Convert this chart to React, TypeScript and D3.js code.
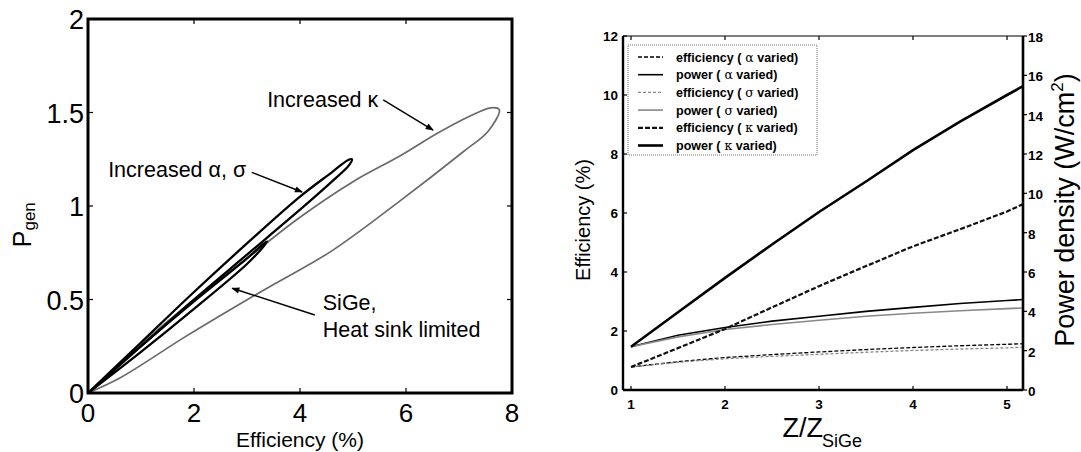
import React from "react";
import * as d3 from "d3";

// ---- left panel: P_gen vs efficiency loops ----
const kappaLoop: [number, number][] = [
  [0, 0], [1, 0.26], [2, 0.5], [3, 0.72], [4, 0.94], [5, 1.13], [5.9, 1.27],
  [6.6, 1.39], [7.2, 1.48], [7.6, 1.525], [7.76, 1.515], [7.55, 1.4], [7.08, 1.29],
  [5.9, 1.03], [4.6, 0.76], [3.5, 0.58], [2.77, 0.46], [1.83, 0.3], [0.6, 0.08], [0, 0],
];
const alphaSigmaLoop: [number, number][] = [
  [0, 0], [1, 0.27], [2, 0.54], [3, 0.8], [4, 1.05], [4.6, 1.18], [4.9, 1.245],
  [4.98, 1.25], [4.93, 1.22], [4.6, 1.13], [4, 0.98], [3, 0.74], [2, 0.5], [1, 0.25], [0, 0],
];
const sigeLoop: [number, number][] = [
  [0, 0], [1, 0.25], [2, 0.49], [3, 0.72], [3.32, 0.8], [3.38, 0.81], [3.3, 0.78],
  [3, 0.69], [2, 0.45], [1, 0.22], [0, 0],
];
const leftXTicks = [0, 2, 4, 6, 8];
const leftYTicks = [0, 0.5, 1, 1.5, 2];

// ---- right panel: vs Z/Z_SiGe ----
const zRatio = [1, 1.5, 2, 2.5, 3, 3.5, 4, 4.5, 5, 5.17];
const effAlpha = [0.78, 0.96, 1.1, 1.2, 1.29, 1.37, 1.44, 1.5, 1.55, 1.57];
const powAlpha = [2.2, 2.78, 3.18, 3.5, 3.75, 4.0, 4.2, 4.4, 4.55, 4.6];
const effSigma = [0.78, 0.94, 1.06, 1.14, 1.21, 1.28, 1.34, 1.39, 1.43, 1.45];
const powSigma = [2.2, 2.7, 3.08, 3.33, 3.55, 3.75, 3.9, 4.03, 4.14, 4.17];
const effKappa = [0.78, 1.42, 2.07, 2.8, 3.52, 4.2, 4.87, 5.45, 6.05, 6.3];
const powKappa = [2.2, 3.95, 5.7, 7.4, 9.05, 10.6, 12.2, 13.65, 15.0, 15.45];
const zTicks = [1, 2, 3, 4, 5];
const effTicks = [0, 2, 4, 6, 8, 10, 12];
const powTicks = [0, 2, 4, 6, 8, 10, 12, 14, 16, 18];

const FONT = "Liberation Sans, Arial, sans-serif";

const series = [
  { label: "efficiency (", greek: "α", values: effAlpha, axis: "eff", color: "#000", width: 1.3, dash: "4,2" },
  { label: "power (", greek: "α", values: powAlpha, axis: "pow", color: "#000", width: 1.6, dash: null },
  { label: "efficiency (", greek: "σ", values: effSigma, axis: "eff", color: "#888", width: 1.3, dash: "3,2" },
  { label: "power (", greek: "σ", values: powSigma, axis: "pow", color: "#888", width: 1.6, dash: null },
  { label: "efficiency (", greek: "κ", values: effKappa, axis: "eff", color: "#111", width: 2.2, dash: "5,2" },
  { label: "power (", greek: "κ", values: powKappa, axis: "pow", color: "#000", width: 2.6, dash: null },
];

export default function App() {
  // left panel scales
  const lx = d3.scaleLinear().domain([0, 8]).range([88, 512]);
  const ly = d3.scaleLinear().domain([0, 2]).range([393, 19]);
  const loopLine = d3.line<[number, number]>()
    .x(d => lx(d[0]))
    .y(d => ly(d[1]))
    .curve(d3.curveCatmullRom.alpha(0.5));

  // right panel scales
  const rx = d3.scaleLinear().domain([0.915, 5.17]).range([623, 1023]);
  const ryEff = d3.scaleLinear().domain([0, 12]).range([390, 36]);
  const ryPow = d3.scaleLinear().domain([0, 18]).range([390, 36]);

  const annot = [
    { text: "Increased κ", at: [3.38, 1.53], from: [5.57, 1.567], to: [6.51, 1.406] },
    { text: "Increased α, σ", at: [0.38, 1.155], from: [3.09, 1.18], to: [4.04, 1.075] },
    { text: "SiGe,", at: [4.43, 0.444], from: [4.28, 0.417], to: [2.72, 0.56] },
    { text: "Heat sink limited", at: [4.43, 0.3], from: null, to: null },
  ];

  const legendX = 628, legendY = 45;

  return (
    <svg width={1081} height={452} style={{ position: "absolute", left: 0, top: 0, background: "#fff" }}
      fontFamily={FONT}>
      <defs>
        <marker id="arrow" viewBox="0 0 10 10" refX="9" refY="5" markerWidth="10" markerHeight="8"
          markerUnits="userSpaceOnUse" orient="auto">
          <path d="M0,1 L10,5 L0,9 z" fill="#000" />
        </marker>
      </defs>

      {/* ===== left panel ===== */}
      <g>
        <path d={loopLine(kappaLoop) || ""} fill="none" stroke="#6a6a6a" strokeWidth={1.7} />
        <path d={loopLine(sigeLoop) || ""} fill="none" stroke="#000" strokeWidth={2.3} />
        <path d={loopLine(alphaSigmaLoop) || ""} fill="none" stroke="#000" strokeWidth={2.3} />

        <rect x={lx(0)} y={ly(2)} width={lx(8) - lx(0)} height={ly(0) - ly(2)}
          fill="none" stroke="#000" strokeWidth={3} />
        {leftXTicks.slice(1, -1).map(t => (
          <g key={"lxt" + t}>
            <line x1={lx(t)} x2={lx(t)} y1={ly(0)} y2={ly(0) - 5} stroke="#000" strokeWidth={1.2} />
            <line x1={lx(t)} x2={lx(t)} y1={ly(2)} y2={ly(2) + 5} stroke="#000" strokeWidth={1.2} />
          </g>
        ))}
        {leftYTicks.slice(1, -1).map(t => (
          <g key={"lyt" + t}>
            <line x1={lx(0)} x2={lx(0) + 5} y1={ly(t)} y2={ly(t)} stroke="#000" strokeWidth={1.2} />
            <line x1={lx(8)} x2={lx(8) - 5} y1={ly(t)} y2={ly(t)} stroke="#000" strokeWidth={1.2} />
          </g>
        ))}
        {leftXTicks.map(t => (
          <text key={"lxl" + t} x={lx(t)} y={422} textAnchor="middle" fontSize={26}>{t}</text>
        ))}
        {leftYTicks.map(t => (
          <text key={"lyl" + t} x={84} y={ly(t) + 10} textAnchor="end" fontSize={27}>{t}</text>
        ))}
        <text x={lx(4)} y={447} textAnchor="middle" fontSize={21}>Efficiency (%)</text>
        <text transform={`translate(31, ${ly(0.9)}) rotate(-90)`} textAnchor="middle" fontSize={25}>
          P<tspan fontSize={17} dy={4}>gen</tspan>
        </text>

        {annot.map((a, i) => (
          <g key={"an" + i}>
            <text x={lx(a.at[0])} y={ly(a.at[1])} fontSize={21.5}>{a.text}</text>
            {a.from && a.to && (
              <line x1={lx(a.from[0])} y1={ly(a.from[1])} x2={lx(a.to[0])} y2={ly(a.to[1])}
                stroke="#000" strokeWidth={1.4} markerEnd="url(#arrow)" />
            )}
          </g>
        ))}
      </g>

      {/* ===== right panel ===== */}
      <g>
        {series.map((s, i) => {
          const sy = s.axis === "eff" ? ryEff : ryPow;
          const line = d3.line<number>().x((d, j) => rx(zRatio[j])).y(d => sy(d));
          return (
            <path key={"sr" + i} d={line(s.values) || ""} fill="none" stroke={s.color}
              strokeWidth={s.width} strokeDasharray={s.dash || undefined} />
          );
        })}

        {/* frame */}
        <line x1={rx.range()[0]} x2={rx.range()[1]} y1={36} y2={36} stroke="#000" strokeWidth={1.2} />
        <line x1={rx.range()[0]} x2={rx.range()[1]} y1={390} y2={390} stroke="#000" strokeWidth={2.6} />
        <line x1={rx.range()[0]} x2={rx.range()[0]} y1={36} y2={390} stroke="#000" strokeWidth={2.4} />
        <line x1={rx.range()[1]} x2={rx.range()[1]} y1={36} y2={390} stroke="#000" strokeWidth={2.6} />

        {zTicks.map(t => (
          <g key={"zt" + t}>
            <line x1={rx(t)} x2={rx(t)} y1={390} y2={386} stroke="#000" strokeWidth={1.2} />
            <line x1={rx(t)} x2={rx(t)} y1={36} y2={40} stroke="#000" strokeWidth={1.2} />
            <text x={rx(t)} y={409} textAnchor="middle" fontSize={13.5} fontWeight="bold">{t}</text>
          </g>
        ))}
        {effTicks.map(t => (
          <g key={"et" + t}>
            <line x1={623} x2={627} y1={ryEff(t)} y2={ryEff(t)} stroke="#000" strokeWidth={1.2} />
            <text x={618} y={ryEff(t) + 5} textAnchor="end" fontSize={13.5} fontWeight="bold">{t}</text>
          </g>
        ))}
        {powTicks.map(t => (
          <g key={"pt" + t}>
            <line x1={1023} x2={1027} y1={ryPow(t)} y2={ryPow(t)} stroke="#000" strokeWidth={1.2} />
            <text x={1028} y={ryPow(t) + 6} textAnchor="start" fontSize={13.5} fontWeight="bold">{t}</text>
          </g>
        ))}

        {/* axis titles */}
        <text transform={`translate(590, 220) rotate(-90)`} textAnchor="middle" fontSize={20}>Efficiency (%)</text>
        <text transform={`translate(1074, 210) rotate(-90)`} textAnchor="middle" fontSize={27}>
          Power density (W/cm<tspan fontSize={17} dy={-11}>2</tspan><tspan dy={11}>)</tspan>
        </text>
        <text x={823} y={437} textAnchor="end" fontSize={27}>Z/Z</text>
        <text x={822} y={447} textAnchor="start" fontSize={18}>SiGe</text>

        {/* legend */}
        <rect x={legendX} y={legendY} width={189} height={110} fill="#fff"
          stroke="#777" strokeWidth={1} strokeDasharray="1,1" />
        {series.map((s, i) => {
          const yy = legendY + 12 + i * 17.7;
          return (
            <g key={"lg" + i}>
              <line x1={legendX + 10} x2={legendX + 35} y1={yy} y2={yy} stroke={s.color}
                strokeWidth={s.width} strokeDasharray={s.dash || undefined} />
              <text x={legendX + 48} y={yy + 4.5} fontSize={12.5} fontWeight="bold">
                {s.label}
                <tspan fontFamily="DejaVu Serif, serif" fontWeight="normal">{" " + s.greek}</tspan>
                {" varied)"}
              </text>
            </g>
          );
        })}
      </g>
    </svg>
  );
}
